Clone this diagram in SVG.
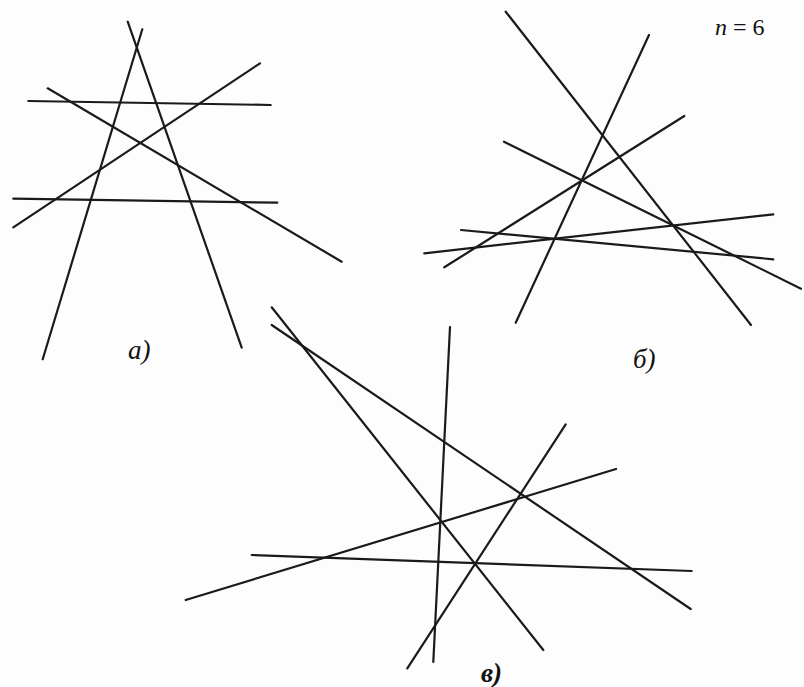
<svg xmlns="http://www.w3.org/2000/svg" width="804" height="687" viewBox="0 0 804 687">
<style>
.ln{stroke:#1a1a1a;stroke-width:2.2;stroke-linecap:round;fill:none}
.lb{font-family:"Liberation Serif","Times New Roman",serif;font-style:italic;fill:#111}
</style>
<rect width="804" height="687" fill="#fdfdfd"/>
<g id="figure-a">
<line class="ln" x1="127.7" y1="21.7" x2="241.7" y2="347.7"/>
<line class="ln" x1="142.3" y1="29.3" x2="42.7" y2="359.3"/>
<line class="ln" x1="28.3" y1="101" x2="270.7" y2="105"/>
<line class="ln" x1="13.3" y1="198.7" x2="277.3" y2="202.7"/>
<line class="ln" x1="47.7" y1="88.3" x2="341.7" y2="261.7"/>
<line class="ln" x1="13.3" y1="227.3" x2="260" y2="63.3"/>
<text class="lb" x="128" y="359" font-size="27">a)</text>
</g>
<g id="figure-b">
<line class="ln" x1="505.7" y1="11.7" x2="751" y2="325"/>
<line class="ln" x1="649" y1="35" x2="515.7" y2="322.7"/>
<line class="ln" x1="684.3" y1="116" x2="444.3" y2="267.3"/>
<line class="ln" x1="504" y1="141.7" x2="801" y2="288.7"/>
<line class="ln" x1="773.3" y1="214.3" x2="424.3" y2="253.3"/>
<line class="ln" x1="461" y1="230" x2="773.3" y2="259.3"/>
<text class="lb" x="715" y="35" font-size="24">n<tspan font-style="normal" dx="6">=</tspan><tspan font-style="normal" dx="6">6</tspan></text>
<text class="lb" x="633" y="368" font-size="27">б)</text>
</g>
<g id="figure-c">
<line class="ln" x1="271.7" y1="307.3" x2="543.3" y2="650"/>
<line class="ln" x1="271.7" y1="325" x2="690.7" y2="609"/>
<line class="ln" x1="450" y1="327" x2="433.3" y2="662"/>
<line class="ln" x1="185.7" y1="600" x2="616" y2="469"/>
<line class="ln" x1="251.7" y1="555" x2="691.7" y2="571"/>
<line class="ln" x1="565.7" y1="424.3" x2="407.3" y2="668.3"/>
<text class="lb" x="481" y="682" font-size="27" font-weight="bold">в)</text>
</g>
</svg>
